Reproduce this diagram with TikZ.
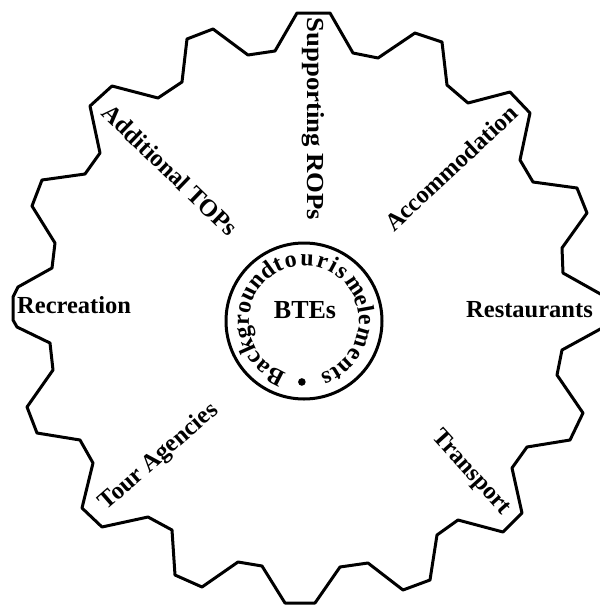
\documentclass[tikz,border=0pt]{standalone}
\usepackage{fontspec}
\setmainfont{Liberation Serif}
\begin{document}
\begin{tikzpicture}[x=1pt,y=1pt,
  gearline/.style={line width=3pt, line join=round},
  lbl/.style={font=\fontsize{24.5}{24.5}\selectfont\bfseries, inner sep=0pt},
  ringch/.style={font=\fontsize{24}{24}\selectfont\bfseries, inner sep=0pt, anchor=base}
]
\path[use as bounding box] (0,0) rectangle (600,-606);
\clip (0,0) rectangle (600,-606);
% gear outline
\draw[gearline] (297,-13) -- (330,-13) -- (353,-53) -- (378,-58) -- (415,-33) -- (442,-42)
  -- (447,-85) -- (468,-103) -- (510,-92) -- (530,-113) -- (520,-160) -- (533,-182)
  -- (577,-188) -- (587,-213) -- (562,-248) -- (563,-273) -- (604,-296) -- (604,-327)
  -- (562,-350) -- (557,-375) -- (583,-413) -- (570,-440) -- (527,-447) -- (512,-468)
  -- (522,-513) -- (503,-532) -- (458,-520) -- (437,-535) -- (430,-580) -- (403,-590)
  -- (368,-563) -- (340,-567) -- (315,-603) -- (285,-603) -- (262,-566) -- (238,-562)
  -- (202,-587) -- (175,-575) -- (172,-530) -- (148,-517) -- (102,-527) -- (82,-508)
  -- (93,-463) -- (80,-440) -- (37,-433) -- (27,-407) -- (53,-370) -- (50,-343)
  -- (17,-327) -- (13,-320) -- (13,-297) -- (18,-287) -- (52,-268) -- (55,-243)
  -- (32,-206) -- (42,-180) -- (85,-174) -- (100,-153) -- (90,-106) -- (112,-86)
  -- (158,-98) -- (182,-82) -- (187,-39) -- (213,-29) -- (248,-55) -- (275,-51) -- cycle;
% inner circle
\coordinate (c) at (304,-321);
\draw[gearline] (c) circle[radius=78];
\node[lbl, font=\fontsize{26}{26}\selectfont\bfseries, anchor=base] (bte) at (305,-318) {BTEs};
% ring text, letter by letter
\foreach \l/\a [count=\i] in {B/243, a/228.4, c/216.5, k/204.0, g/190.8, r/178.9, o/167.1, u/153.9, n/139.9, d/126,
  t/115, o/102.7, u/87.2, r/72.5, i/61.8, s/52.0, m/34,
  e/20, l/10.4, e/0.8, m/-16.2, e/-33.2, n/-46.5, t/-58.4, s/-68}
  \node[ringch, rotate=\a-90] (rc\i) at ([shift={(\a:55)}]c) {\l};
\fill (c) ++(-92:61) circle[radius=3.8];
% labels
\node[lbl, rotate=-90] (sup) at (313,-119) {\scalebox{1.09}[1]{Supporting ROPs}};
\node[lbl, rotate=-44] (add) at (170,-170) {Additional TOPs};
\node[lbl, rotate=43] (acc) at (451,-168) {Accommodation};
\node[lbl, anchor=base west] (rec) at (17,-313) {Recreation};
\node[lbl, anchor=base east] (res) at (593,-317) {Restaurants};
\node[lbl, rotate=41] (tour) at (159,-457) {Tour Agencies};
\node[lbl, rotate=-48] (tra) at (471,-473) {Transport};
\end{tikzpicture}
\end{document}
